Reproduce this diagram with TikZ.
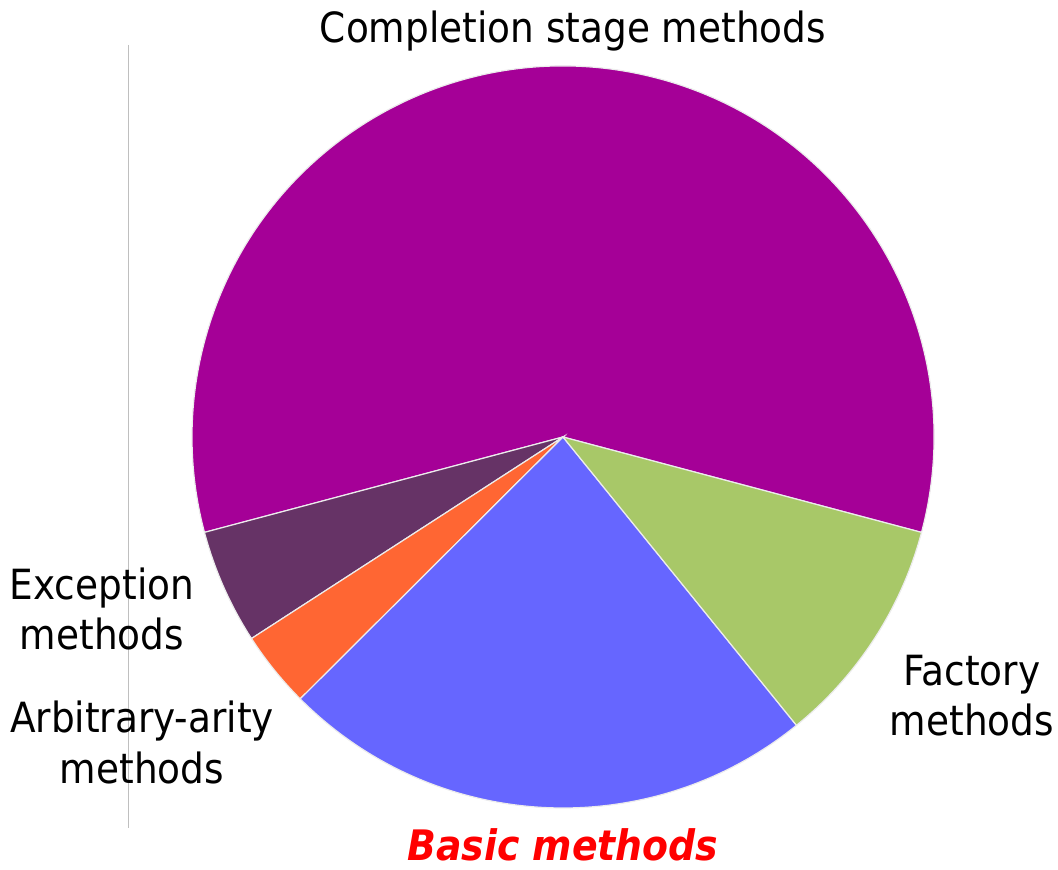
\documentclass[tikz,border=0pt]{standalone}
\usepackage{fontspec}
\setmainfont{DejaVu Sans Condensed}
\definecolor{stagepurple}{RGB}{165,0,151}
\definecolor{excpurple}{RGB}{102,51,102}
\definecolor{arityorange}{RGB}{255,102,51}
\definecolor{basicblue}{RGB}{102,102,255}
\definecolor{factgreen}{RGB}{168,200,104}
\tikzset{
  slice/.style={draw=white!85!gray, line width=0.6pt},
  lbl/.style={font=\fontsize{20.8}{25}\selectfont, align=center, inner sep=0pt, anchor=base}
}
\begin{document}
\begin{tikzpicture}[x=0.5pt, y=0.5pt]
				\useasboundingbox (-563,-433) rectangle (495,437);
				% thin rule on the left
				\draw[black!25, line width=0.5pt] (-434,392) -- (-434,-391);
				
				% slices: start angle / end angle / colour
				\foreach \a/\b/\c in {-14.9/194.9/stagepurple, 194.9/212.9/excpurple, 212.9/224.9/arityorange, 224.9/309/basicblue, 309/345.1/factgreen}
				  \filldraw[slice, fill=\c] (0,0) -- (\a:185.5pt) arc[start angle=\a, end angle=\b, radius=185.5pt] -- cycle;
				
				% labels (base = last line)
				\node[lbl] (stage) at (10,394) {Completion stage methods};
				\node[lbl] (exc) at (-461,-213) {Exception\\methods};
				\node[lbl] (arity) at (-421,-346) {Arbitrary-arity\\methods};
				\node[lbl] (fact) at (409,-299) {Factory\\methods};
				\node[lbl, text=red, font=\fontsize{21}{25}\selectfont\bfseries\itshape] (basic) at (0,-423) {Basic methods};
			\end{tikzpicture}
\end{document}
